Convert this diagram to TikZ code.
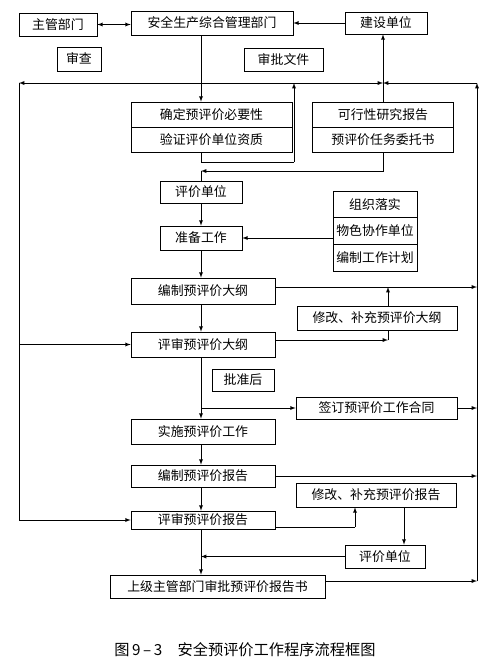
\documentclass[tikz,border=0pt]{standalone}
\usepackage{fontspec}
\newfontfamily\cjk{Noto Sans CJK SC}
\usepackage{tikz}
\usepackage{xcolor}

\begin{document}
\begin{tikzpicture}[x=0.3mm, y=-0.3mm,
		>=latex,   % Pfeilspitzen
		box/.style={draw, line width=0.6pt, inner sep=0pt, minimum width=#1*0.3mm, minimum height=24*0.3mm,
			font=\cjk\fontsize{11}{12}\selectfont},
		tall/.style={minimum height=#1*0.3mm},
		every path/.style={line width=0.6pt}]
		\useasboundingbox (0,0) rectangle (500,661);
		% Kaesten oben
		\node[box=78, tall=23] (zg) at (58,24.5) {主管部门};
		\node[box=162] (aq) at (212,23) {安全生产综合管理部门};
		\node[box=82, tall=22] (js) at (386,23) {建设单位};
		\node[box=44] (sc) at (79,59) {审查};
		\node[box=79, tall=23] (sp) at (283.5,59.5) {审批文件};
		\node[box=161, tall=25] (qd1) at (211.5,114.5) {确定预评价必要性};
		\node[box=161, tall=25] (qd2) at (211.5,139.5) {验证评价单位资质};
		\node[box=141, tall=25] (kx1) at (383,114.5) {可行性研究报告};
		\node[box=141, tall=25] (kx2) at (383,139.5) {预评价任务委托书};
		% Kaesten Mitte
		\node[box=82, tall=22] (pj1) at (201,192) {评价单位};
		\node[box=82] (zb) at (201,238) {准备工作};
		\node[box=84, tall=26.7] (zz1) at (375,204.3) {组织落实};
		\node[box=84, tall=26.7] (zz2) at (375,231) {物色协作单位};
		\node[box=84, tall=26.7] (zz3) at (375,257.7) {编制工作计划};
		\node[box=144, tall=26] (bz) at (203,291) {编制预评价大纲};
		\node[box=160] (xg1) at (377,318) {修改、补充预评价大纲};
		\node[box=144, tall=25] (ps1) at (203,344.5) {评审预评价大纲};
		\node[box=62, tall=22] (pz) at (243,380) {批准后};
		\node[box=161, tall=22] (ht) at (376.5,408) {签订预评价工作合同};
		\node[box=144, tall=25] (ss) at (203,431.5) {实施预评价工作};
		% Kaesten unten
		\node[box=144, tall=22] (bb) at (203,476) {编制预评价报告};
		\node[box=160] (xg2) at (376,495) {修改、补充预评价报告};
		\node[box=144, tall=18] (ps2) at (203,520) {评审预评价报告};
		\node[box=80, tall=23] (pj2) at (385,556.5) {评价单位};
		\node[box=215, tall=23] (sj) at (217.5,586.5) {上级主管部门审批预评价报告书};
		% Bildunterschrift
		\node[font=\cjk\fontsize{13}{15}\selectfont] (cap) at (245,650) {图\,9\,–\,3\quad 安全预评价工作程序流程框图};
		% Hilfspunkte
		\coordinate (mx) at (201,0);
		\coordinate (L0) at (19,83);
		\coordinate (R0) at (477,83);
		\coordinate (R1) at (477,581);
		\coordinate (T0) at (383,83);
		\coordinate (q1) at (201,162);
		\coordinate (q2) at (294,162);
		\coordinate (k1) at (201,171);
		\coordinate (b1) at (388,287);
		\coordinate (m1) at (388,340);
		\coordinate (v1) at (201,408);
		\coordinate (m2) at (355,527);
		\coordinate (x1) at (404,0);
		% Verbindungen oben
		\draw[<->] (zg.east) -- (zg.east -| aq.west);
		\draw[->] (js.west) -- (js.west -| aq.east);
		\draw[->] (aq.south -| mx) -- (qd1.north -| mx);
		\draw[->] (kx1.north) -- (kx1.north |- js.south);
		\draw (qd2.south -| mx) -- (q1) -- (q2);
		\draw[->] (q2) -- (q2 |- L0);
		\draw[->] (q2 |- L0) -- (L0);
		\draw[->] (q2 |- L0) -- (T0);
		\draw[->] (R1) -- (R0);
		\draw[->] (R0) -- (T0);
		% linke Rueckfuehrung
		\draw (L0) -- (L0 |- ps2);
		\draw[->] (L0 |- ps1) -- (ps1.west);
		\draw[->] (L0 |- ps2) -- (ps2.west);
		% Verbindungen Mitte
		\draw[->] (kx2.south) |- (k1);
		\draw (k1) -- (pj1.north);
		\draw[->] (pj1) -- (zb);
		\draw[->] (zz2.west |- zb.east) -- (zb.east);
		\draw[->] (zb.south -| mx) -- (bz.north -| mx);
		\draw[->] (bz.east |- b1) -- (R0 |- b1);
		\draw[->] (xg1.north -| b1) -- (b1);
		\draw[->] (ps1.east |- m1) -- (m1);
		\draw (m1) -- (m1 |- xg1.south);
		\draw[->] (bz.south -| mx) -- (ps1.north -| mx);
		\draw[->] (ps1.south -| mx) -- (ss.north -| mx);
		\draw[->] (v1) -- (ht.west);
		\draw[->] (ht.east) -- (ht.east -| R0);
		% Verbindungen unten
		\draw[->] (ss.south -| mx) -- (bb.north -| mx);
		\draw[->] (bb.east) -- (bb.east -| R0);
		\draw[->] (bb.south -| mx) -- (ps2.north -| mx);
		\draw (ps2.east |- m2) -- (m2);
		\draw[->] (m2) -- (m2 |- xg2.south);
		\draw[->] (xg2.south -| x1) -- (pj2.north -| x1);
		\draw[->] (pj2.west) -- (pj2.west -| mx);
		\draw[->] (ps2.south -| mx) -- (sj.north -| mx);
		\draw[->] (sj.east |- R1) -- (R1);
	\end{tikzpicture}
\end{document}
